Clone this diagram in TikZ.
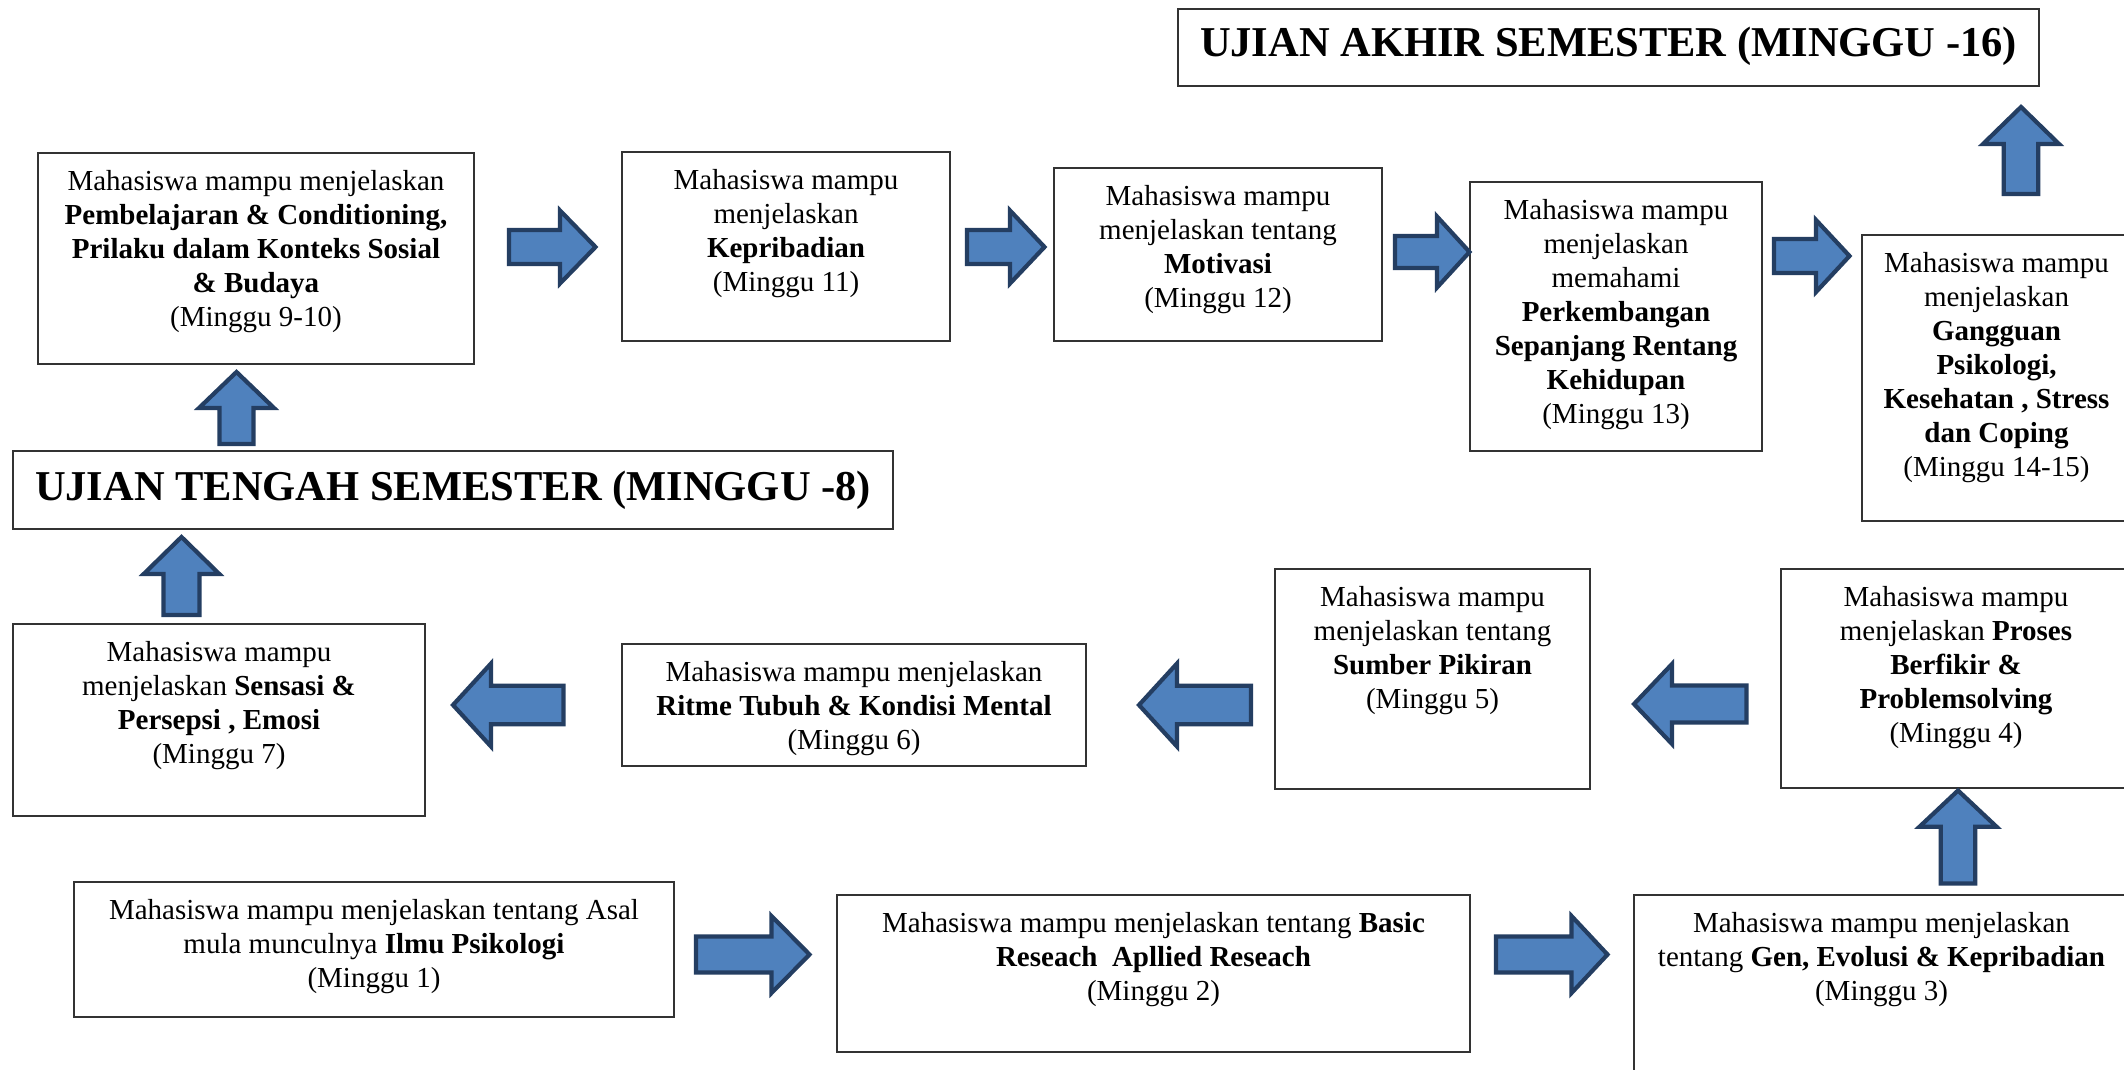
\documentclass[tikz,border=0pt]{standalone}
\usepackage{fontspec}
\setmainfont{Liberation Serif}
\definecolor{afill}{RGB}{79,129,189}
\definecolor{aline}{RGB}{36,62,98}
\tikzset{
  box/.style={draw=black!80, line width=1.6pt, fill=white, rectangle, inner sep=0pt, outer sep=0pt},
  txt/.style={font=\fontsize{29}{34}\selectfont, align=center, inner sep=0pt, anchor=north},
  ttl/.style={font=\fontsize{42.5}{48}\selectfont\bfseries, inner sep=0pt, anchor=base},
  barrow/.style={fill=afill, draw=aline, line width=4.2pt, line join=miter},
}
% box by corners: name, x1, y1, x2, y2
\newcommand{\boxat}[5]{\node[box, minimum width={#4-#2}, minimum height={#5-#3}] (#1) at ({(#2+#4)/2},{(#3+#5)/2}) {};}
% text hanging from top of box
\newcommand{\boxtext}[2]{\node[txt] (#1t) at ([yshift=-13.2pt]#1.north) {\strut #2};}
% horizontal block arrow: tail x, head base x, tip x, centre y, shaft half, head half
\newcommand{\harr}[6]{\draw[barrow] (#1,#4-#5) -- (#2,#4-#5) -- (#2,#4-#6) -- (#3,#4) -- (#2,#4+#6) -- (#2,#4+#5) -- (#1,#4+#5) -- cycle;}
% vertical block arrow: centre x, tail y, head base y, tip y, shaft half, head half
\newcommand{\varr}[6]{\draw[barrow] (#1-#5,#2) -- (#1-#5,#3) -- (#1-#6,#3) -- (#1,#4) -- (#1+#6,#3) -- (#1+#5,#3) -- (#1+#5,#2) -- cycle;}
\begin{document}
\begin{tikzpicture}[x=1pt,y=-1pt]
\useasboundingbox (0,0) rectangle (2124,1070);
\fill[white] (0,0) rectangle (2124,1070);
\clip (0,0) rectangle (2124,1070);

% title boxes
\boxat{uas}{1178}{9}{2039}{86}
\node[ttl] (uast) at (1608.5,57) {UJIAN AKHIR SEMESTER (MINGGU -16)};
\boxat{uts}{13}{451}{893}{529}
\node[ttl] (utst) at (453,500) {UJIAN TENGAH SEMESTER (MINGGU -8)};

% row 1
\boxat{b910}{38}{153}{474}{364}
\boxtext{b910}{Mahasiswa mampu menjelaskan\\ \textbf{Pembelajaran \& Conditioning,}\\ \textbf{Prilaku dalam Konteks Sosial}\\ \textbf{\& Budaya}\\ (Minggu 9-10)}
\boxat{kep}{622}{152}{950}{341}
\boxtext{kep}{Mahasiswa mampu\\ menjelaskan\\ \textbf{Kepribadian}\\ (Minggu 11)}
\boxat{mot}{1054}{168}{1382}{341}
\boxtext{mot}{Mahasiswa mampu\\ menjelaskan tentang\\ \textbf{Motivasi}\\ (Minggu 12)}
\boxat{perk}{1470}{182}{1762}{451}
\boxtext{perk}{Mahasiswa mampu\\ menjelaskan\\ memahami\\ \textbf{Perkembangan}\\ \textbf{Sepanjang Rentang}\\ \textbf{Kehidupan}\\ (Minggu 13)}
\boxat{gang}{1862}{235}{2131}{521}
\boxtext{gang}{Mahasiswa mampu\\ menjelaskan\\ \textbf{Gangguan}\\ \textbf{Psikologi,}\\ \textbf{Kesehatan , Stress}\\ \textbf{dan Coping}\\ (Minggu 14-15)}

% row 2
\boxat{sens}{13}{624}{425}{816}
\boxtext{sens}{Mahasiswa mampu\\ menjelaskan \textbf{Sensasi \&}\\ \textbf{Persepsi , Emosi}\\ (Minggu 7)}
\boxat{ritme}{622}{644}{1086}{766}
\boxtext{ritme}{Mahasiswa mampu menjelaskan\\ \textbf{Ritme Tubuh \& Kondisi Mental}\\ (Minggu 6)}
\boxat{sumber}{1275}{569}{1590}{789}
\boxtext{sumber}{Mahasiswa mampu\\ menjelaskan tentang\\ \textbf{Sumber Pikiran}\\ (Minggu 5)}
\boxat{proses}{1781}{569}{2131}{788}
\boxtext{proses}{Mahasiswa mampu\\ menjelaskan \textbf{Proses}\\ \textbf{Berfikir \&}\\ \textbf{Problemsolving}\\ (Minggu 4)}

% row 3
\boxat{ilmu}{74}{882}{674}{1017}
\boxtext{ilmu}{Mahasiswa mampu menjelaskan tentang Asal\\ mula munculnya \textbf{Ilmu Psikologi}\\ (Minggu 1)}
\boxat{basic}{837}{895}{1470}{1052}
\boxtext{basic}{Mahasiswa mampu menjelaskan tentang \textbf{Basic}\\ \textbf{Reseach\ \ Apllied Reseach}\\ (Minggu 2)}
\boxat{gen}{1634}{895}{2129}{1090}
\boxtext{gen}{Mahasiswa mampu menjelaskan\\ tentang \textbf{Gen, Evolusi \& Kepribadian}\\ (Minggu 3)}

% block arrows
\harr{509}{560}{595.5}{247}{17}{36.5}
\harr{967}{1010}{1044.5}{247}{17}{36.5}
\harr{1395}{1437}{1469.5}{252}{16}{35.5}
\harr{1774}{1816}{1849.5}{256}{17}{36}
\harr{696}{771.5}{809.5}{954.5}{18}{38.5}
\harr{1496}{1571.5}{1607.5}{954.5}{18}{38.5}
\harr{563.5}{491}{453}{705}{19.3}{41.5}
\harr{1251}{1177}{1139}{705}{19.3}{41.5}
\harr{1746.5}{1672}{1634}{704}{18.5}{40}
\varr{236.5}{444}{408}{372}{17}{37.5}
\varr{181.5}{615}{574}{537}{18}{37.8}
\varr{1958}{883.5}{826.7}{790.5}{17.3}{38.5}
\varr{2021}{194}{144}{107}{17.3}{38}
\end{tikzpicture}
\end{document}
